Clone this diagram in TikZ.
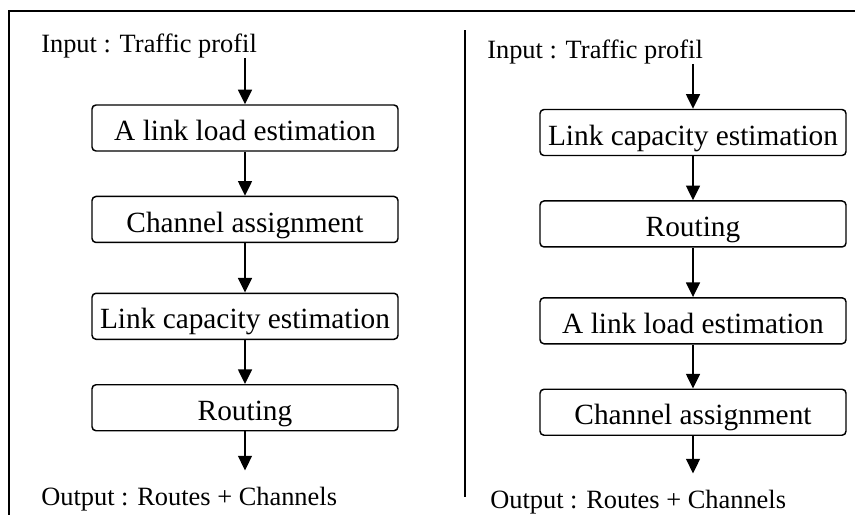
\documentclass[tikz,border=0pt]{standalone}
\usepackage{fontspec}
\setmainfont{Liberation Serif}
\usetikzlibrary{positioning,arrows.meta}

\begin{document}
\begin{tikzpicture}[x=0.75pt,y=-0.75pt,
% node styles
stage/.style={rectangle, rounded corners=3pt, draw=black, line width=1.1pt, minimum width=229.5pt, minimum height=34.5pt, inner sep=0pt, text height=18.8pt, text depth=0pt, font=\fontsize{22}{26}\selectfont},
io/.style={inner sep=0pt, anchor=base west, font=\fontsize{19.8}{24}\selectfont},
arr/.style={-{Triangle[length=11pt,width=10.5pt]}, line width=1.1pt},
node distance=33pt
]
\useasboundingbox (0,0) rectangle (855,515);

% frame and divider
\draw[line width=1.2pt] (855,11) -- (9,11) -- (9,515);
\draw[line width=1.1pt] (465,30) -- (465,497);

% left column nodes
\node[io] (in_l) at (41,52) {Input : Traffic profil};
\node[stage] (l_load) at (245,128) {A link load estimation};
\node[stage] (l_chan) [below=of l_load] {Channel assignment};
\node[stage] (l_cap) [below=37pt of l_chan] {Link capacity estimation};
\node[stage] (l_rout) [below=of l_cap] {Routing};
\node[io] (out_l) at (41,505) {Output : Routes + Channels};

% right column nodes
\node[io] (in_r) at (487,58) {Input : Traffic profil};
\node[stage] (r_cap) at (693,132.5) {Link capacity estimation};
\node[stage] (r_rout) [below=of r_cap] {Routing};
\node[stage] (r_load) [below=37pt of r_rout] {A link load estimation};
\node[stage] (r_chan) [below=of r_load] {Channel assignment};
\node[io] (out_r) at (490,508) {Output : Routes + Channels};

% draw lines between nodes
\draw[arr] (in_l.south -| l_load.north) -- (l_load.north);
\draw[arr] (l_load) -- (l_chan);
\draw[arr] (l_chan) -- (l_cap);
\draw[arr] (l_cap) -- (l_rout);
\draw[arr, shorten >=12pt] (l_rout) -- (l_rout.south |- out_l.north);

\draw[arr] (in_r.south -| r_cap.north) -- (r_cap.north);
\draw[arr] (r_cap) -- (r_rout);
\draw[arr] (r_rout) -- (r_load);
\draw[arr] (r_load) -- (r_chan);
\draw[arr, shorten >=12pt] (r_chan) -- (r_chan.south |- out_r.north);

\end{tikzpicture}
\end{document}
